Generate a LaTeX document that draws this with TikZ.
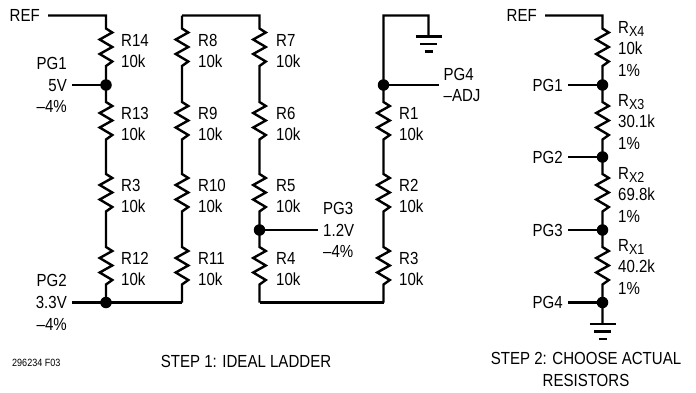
\documentclass[tikz,border=0pt]{standalone}
\usepackage{fontspec}
\setmainfont[FakeStretch=0.86]{Liberation Sans}
\usepackage{tikz}
\usetikzlibrary{positioning}

\newcommand{\rxname}[1]{R\raisebox{-3.5pt}{\fontsize{14.5}{14.5}\selectfont X#1}}

\tikzset{
  wire/.style={line width=2.4pt},
  dot/.style={circle,fill=black,inner sep=0pt,minimum size=11.5pt},
  res/.style={to path={-- ++(0,#1) -- ++(6.3,4) -- ++(-12.6,7) -- ++(12.6,7.5) -- ++(-12.6,7)
      -- ++(12.6,7.5) -- ++(-6.3,4.5) -- (\tikztotarget)}},
  res/.default=17,
  lbl/.style={inner xsep=5pt,inner ysep=0pt,font=\fontsize{17.5}{21.7}\selectfont},
  val/.style={lbl,anchor=west,align=left,inner xsep=0pt},
  pgl/.style={lbl,anchor=east,align=right},
  pgr/.style={lbl,anchor=west,align=left},
  steplbl/.style={inner sep=0pt,align=center,font=\fontsize{17.5}{22.5}\selectfont},
  gnd/.pic={
    \draw[wire] (-13,0) -- (13,0);
    \draw[wire] (-8.5,7.5) -- (8.5,7.5);
    \draw[wire] (-4,15) -- (4,15);
  }
}

\begin{document}
\begin{tikzpicture}[x=1pt,y=-1pt]
  \useasboundingbox (0,0) rectangle (696,392);
  % ladder rails
  \foreach \c/\x in {a/106,b/182,c/259.5,d/383.5,e/602.5}
    \foreach \n/\y in {0/15.5,1/85,2/157,3/230,4/302.5}
      \coordinate (\c\n) at (\x,\y);
  \coordinate (g1) at (428.5,15.5);
  \coordinate (g1b) at (428.5,36.5);
  \coordinate (g2) at (602.5,324);

  % step 1 labels
  \node[pgl,inner xsep=8pt] (ref1) at (48,15.5) {REF};
  \node[pgl] (pg1) at (72,85) {PG1\\5V\\–4\%};
  \node[pgl] (pg2) at (72,302.5) {PG2\\3.3V\\–4\%};
  \node[pgr] (pg3) at (318,230) {PG3\\1.2V\\–4\%};
  \node[pgr] (pg4) at (438.5,85) {PG4\\–ADJ};
  \foreach \x/\y/\t in {121/51/{R14},121/124/{R13},121/196/{R3},121/269/{R12},
      198/51/{R8},198/124/{R9},198/196/{R10},198/269/{R11},
      276/51/{R7},276/124/{R6},276/196/{R5},276/269/{R4},
      399/124/{R1},399/196/{R2},399/269/{R3}}
    \node[val] at (\x,\y) {\t\\10k};

  % step 2 labels
  \node[pgl,inner xsep=8pt] (ref2) at (545,15.5) {REF};
  \node[pgl] (pa) at (568,85) {PG1};
  \node[pgl] (pb) at (568,157) {PG2};
  \node[pgl] (pc) at (568,230) {PG3};
  \node[pgl] (pd) at (568,302.5) {PG4};
  \node[val] at (618,49) {\rxname{4}\\10k\\1\%};
  \node[val] at (618,122) {\rxname{3}\\30.1k\\1\%};
  \node[val] at (618,195) {\rxname{2}\\69.8k\\1\%};
  \node[val] at (618,267) {\rxname{1}\\40.2k\\1\%};

  % step 1 ladder
  \draw[wire] (ref1.east) -- (a0) to[res=13] (a1) to[res] (a2) to[res] (a3) to[res] (a4);
  \draw[wire] (a4) -- (b4);
  \draw[wire] (b0) to[res=13] (b1) to[res] (b2) to[res] (b3) to[res] (b4);
  \draw[wire] (b0) -- (c0) to[res=13] (c1) to[res] (c2) to[res] (c3) to[res] (c4);
  \draw[wire] (c4) -- (d4);
  \draw[wire] (g1b) -- (g1) -- (d0) -- (d1) to[res] (d2) to[res] (d3) to[res] (d4);
  \draw[wire] (pg1.east) -- (a1);
  \draw[wire] (pg2.east) -- (a4);
  \draw[wire] (pg3.west) -- (c3);
  \draw[wire] (pg4.west) -- (d1);
  \pic at (g1b) {gnd};

  % step 2 ladder
  \draw[wire] (ref2.east) -- (e0) to[res=13] (e1) to[res] (e2) to[res] (e3) to[res] (e4) -- (g2);
  \draw[wire] (pa.east) -- (e1);
  \draw[wire] (pb.east) -- (e2);
  \draw[wire] (pc.east) -- (e3);
  \draw[wire] (pd.east) -- (e4);
  \pic at (g2) {gnd};

  \foreach \p in {a1,a4,c3,d1,e1,e2,e3,e4}
    \node[dot] at (\p) {};

  % captions
  \node[inner sep=0pt,anchor=west,font=\fontsize{10.5}{10.5}\selectfont] (fig) at (12,363) {296234 F03};
  \node[steplbl] (step1) at (246,361) {STEP 1: IDEAL LADDER};
  \node[steplbl,anchor=north] (step2) at (586,352) {STEP 2: CHOOSE ACTUAL\\RESISTORS};
\end{tikzpicture}
\end{document}
